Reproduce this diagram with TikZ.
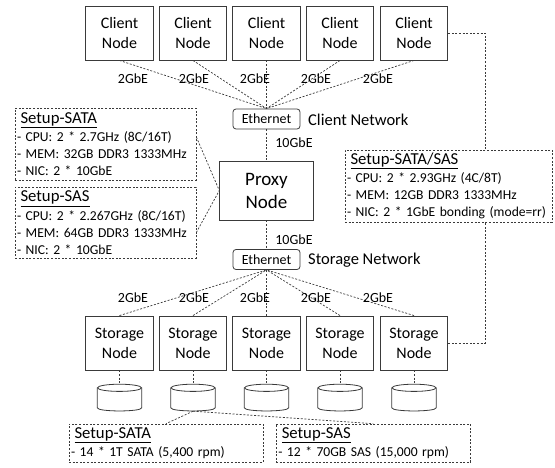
\documentclass[tikz,border=0pt]{standalone}
\usepackage{fontspec}
\setmainfont{Carlito}
\definecolor{linegray}{HTML}{3A3A3A}
\newcommand{\headline}[1]{\hspace*{3.5pt}{\fontsize{16.7}{19}\selectfont\underline{#1}}}
\tikzset{
  box/.style={draw=linegray, line width=.9pt, rectangle, align=center, inner sep=0pt, font=\fontsize{16}{20}\selectfont},
  switch/.style={draw=linegray, line width=.8pt, rectangle, rounded corners=3pt, inner sep=0pt, minimum width=67pt, minimum height=20pt, font=\fontsize{14}{16}\selectfont},
  disk/.style={rectangle, inner sep=0pt, minimum width=44pt, minimum height=27pt},
  diskline/.style={draw=linegray, line width=.8pt},
  link/.style={draw=linegray, line width=.7pt, dash pattern=on 2pt off 1.6pt},
  setup/.style={link, rectangle, align=left, inner sep=0pt, anchor=center, font=\fontsize{13.6}{17}\selectfont},
  rate/.style={inner sep=0pt, font=\fontsize{14}{16}\selectfont},
  netlabel/.style={inner sep=0pt, anchor=west, font=\fontsize{16.5}{19}\selectfont}
}
\begin{document}
\begin{tikzpicture}[x=1pt, y=-1pt]
  \useasboundingbox (0, 0) rectangle (555, 468);
  % clients and storage
  \foreach \i/\x in {1/119.5, 2/193, 3/266.5, 4/340, 5/414} {
    \node[box, minimum width=67.5pt, minimum height=54pt] (client\i) at (\x, 33) {Client\\Node};
    \node[box, minimum width=67.5pt, minimum height=54pt] (storage\i) at (\x, 343) {Storage\\Node};
    \node[disk] (disk\i) at (\x, 397.5) {};
    \draw[diskline] ([yshift=-4pt]disk\i.north) ellipse [x radius=22pt, y radius=3.6pt];
    \draw[diskline] ([yshift=-4pt]disk\i.north west) -- ([yshift=3.4pt]disk\i.south west)
      .. controls ([yshift=-.8pt]disk\i.south west) and ([yshift=-.8pt]disk\i.south east) .. ([yshift=3.4pt]disk\i.south east)
      -- ([yshift=-4pt]disk\i.north east);
  }
  \node[switch] (clientnet) at (266.5, 119) {Ethernet};
  \node[switch] (storagenet) at (266.5, 259.5) {Ethernet};
  \node[box, minimum width=93.5pt, minimum height=59pt, font=\fontsize{19}{23}\selectfont] (proxy) at (266.5, 190.5) {Proxy\\Node};
  \node[netlabel] (clientlabel) at (308, 120) {Client Network};
  \node[netlabel] (storagelabel) at (308, 260) {Storage Network};
  % setups
  \node[setup, minimum width=181pt, minimum height=72pt, text width=177pt] (setupsata) at (105.5, 144) {\headline{Setup-SATA}\\[1.5pt]- CPU: 2 * 2.7GHz (8C/16T)\\- MEM: 32GB DDR3 1333MHz\\- NIC: 2 * 10GbE};
  \node[setup, minimum width=181pt, minimum height=71pt, text width=177pt] (setupsas) at (105.5, 222.5) {\headline{Setup-SAS}\\[1.5pt]- CPU: 2 * 2.267GHz (8C/16T)\\- MEM: 64GB DDR3 1333MHz\\- NIC: 2 * 10GbE};
  \node[setup, minimum width=207pt, minimum height=72pt, text width=203pt] (setuphost) at (448.5, 186) {\headline{Setup-SATA/SAS}\\[1.5pt]- CPU: 2 * 2.93GHz (4C/8T)\\- MEM: 12GB DDR3 1333MHz\\- NIC: 2 * 1GbE bonding (mode=rr)};
  \node[setup, minimum width=194pt, minimum height=38pt, text width=190pt] (drivesata) at (166, 443) {\headline{Setup-SATA}\\[1.5pt]- 14 * 1T SATA (5,400 rpm)};
  \node[setup, minimum width=194.5pt, minimum height=38pt, text width=190pt] (drivesas) at (373.25, 443) {\headline{Setup-SAS}\\[1.5pt]- 12 * 70GB SAS (15,000 rpm)};
  \coordinate (hostup) at (485, 150);
  \coordinate (hostdown) at (485, 222);
  % links
  \foreach \i in {1, ..., 5} {
    \draw[link] (client\i.south) -- (clientnet.north);
    \draw[link] (storage\i.north) -- (storagenet.south);
    \draw[link] (storage\i.south) -- (disk\i.north);
  }
  \draw[link] (clientnet.south) -- (proxy.north);
  \draw[link] (proxy.south) -- (storagenet.north);
  \draw[link] ([yshift=7pt]setupsata.east) -- (proxy.west);
  \draw[link] ([yshift=-10pt]setupsas.east) -- (proxy.west);
  \draw[link] (client5.east) -| (hostup);
  \draw[link] (storage5.east) -| (hostdown);
  \draw[link] (disk2.south) -- (drivesata.north);
  \draw[link] (disk2.south) -- (drivesas.north);
  % rates
  \foreach \i/\x in {1/133, 2/194, 3/255, 4/316, 5/378} {
    \node[rate] (clientrate\i) at (\x, 79) {2GbE};
    \node[rate] (storagerate\i) at (\x, 298) {2GbE};
  }
  \node[rate] (uprate) at (294, 143) {10GbE};
  \node[rate] (downrate) at (294, 240) {10GbE};
\end{tikzpicture}
\end{document}
